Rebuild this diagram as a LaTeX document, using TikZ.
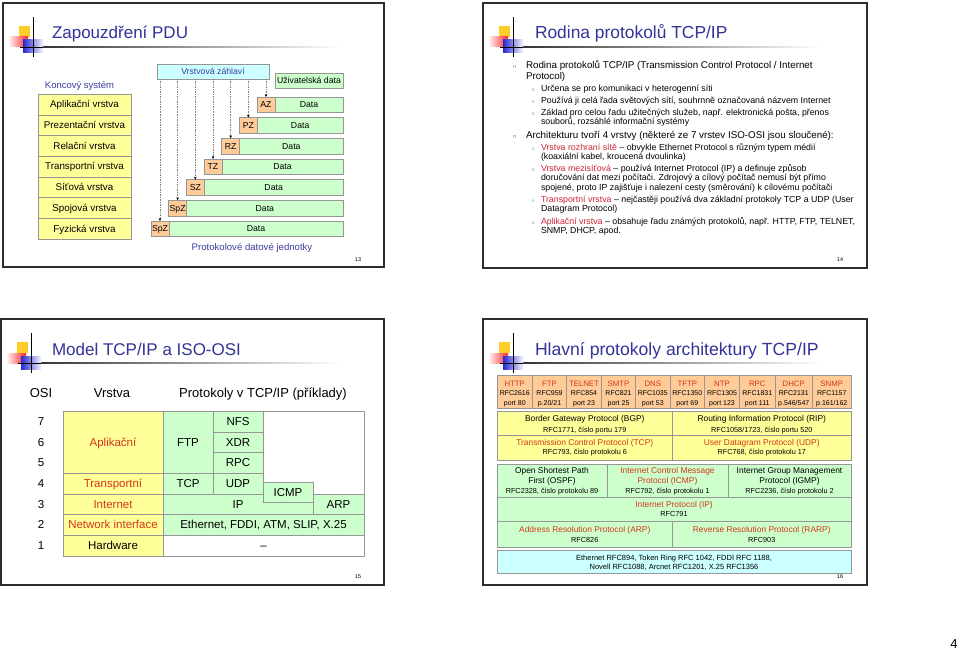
\documentclass[tikz,border=0pt]{standalone}
\usepackage{fontspec}
\setmainfont{Liberation Sans}
\usetikzlibrary{arrows.meta}
\definecolor{ttl}{RGB}{51,51,153}
\definecolor{bluetxt}{RGB}{60,60,160}
\definecolor{redtxt}{RGB}{205,35,50}
\definecolor{ortxt}{RGB}{210,55,25}
\definecolor{yel}{RGB}{255,255,153}
\definecolor{grn}{RGB}{204,255,204}
\definecolor{org}{RGB}{255,204,153}
\definecolor{cyn}{RGB}{204,255,255}
\definecolor{bord}{RGB}{150,150,150}
\definecolor{frm}{RGB}{45,45,45}
\definecolor{logoyel}{RGB}{255,205,40}
\definecolor{logoblue}{RGB}{40,40,210}
\newcommand{\fsz}[2]{\fontsize{#1pt}{#2pt}\selectfont}
\newcommand{\slidelogo}[2]{%
  \begin{scope}[shift={(#1,#2)}]
    \shade[left color=black!85, right color=white] (17,43.6) rectangle (340,44.4);
    \fill[logoyel] (16,23) rectangle (27,34);
    \shade[left color=red!5, right color=red!85] (6,34) rectangle (25,44);
    \shade[left color=logoblue, middle color=logoblue!85, right color=logoblue!5] (20,37) rectangle (40,50);
    \draw[black, line width=0.9pt] (30,14) -- (30,54);
    \draw[black, line width=0.9pt] (17,44) -- (40,44);
  \end{scope}}
\newcommand{\ocell}[6]{%
  \node[ocellst, minimum width={#3-#2}] (#1) at ({(#2+#3)/2},391.5) {};
  \node[oname] (#1n) at ({(#2+#3)/2},386) {#4};
  \node[osub] (#1r) at ({(#2+#3)/2},395.8) {#5};
  \node[osub] (#1p) at ({(#2+#3)/2},405) {#6};}
\tikzset{
  frame/.style={draw=frm, line width=1.6pt},
  ttlst/.style={anchor=base west, text=ttl, font=\fsz{17}{20}},
  pgnum/.style={font=\fsz{5.5}{6}},
  layer/.style={draw=bord, fill=yel, minimum width=93pt, minimum height=20.71pt, font=\fsz{9.8}{11}, text height=7pt, text depth=0pt},
  hdr/.style={draw=bord, fill=org, minimum width=18pt, minimum height=15.5pt, font=\fsz{8.7}{10}, text height=6.2pt, text depth=0pt},
  datab/.style={draw=bord, fill=grn, minimum height=15.5pt, font=\fsz{8.7}{10}, text height=6.2pt, text depth=0pt},
  arr/.style={draw=gray, dash pattern=on 1.5pt off 1pt, -{Stealth[length=3pt,width=2.6pt,color=black]}},
  l1/.style={anchor=base west, font=\fsz{9.8}{11}},
  l2/.style={anchor=base west, font=\fsz{8.8}{10}},
  b1/.style={anchor=base west, font=\fsz{5.5}{6}, text=gray},
  b2/.style={anchor=base west, font=\fsz{4.5}{5}, text=gray},
  thd/.style={anchor=base, font=\fsz{13}{15}},
  tc/.style={draw=bord, font=\fsz{11.5}{13}, text height=8.2pt, text depth=0pt},
  num/.style={font=\fsz{11.5}{13}, text height=8.2pt, text depth=0pt},
  ocellst/.style={draw=bord, fill=org, minimum height=33pt},
  oname/.style={anchor=base, font=\fsz{7.8}{9}, text=ortxt},
  osub/.style={anchor=base, font=\fsz{7.0}{8}},
  bcell/.style={draw=bord},
  mtxt/.style={anchor=base, font=\fsz{8.4}{9}},
  stxt/.style={anchor=base, font=\fsz{7.3}{8}},
}
\begin{document}
\begin{tikzpicture}[x=1pt,y=-1pt, every node/.style={inner sep=0pt, outer sep=0pt}]
\useasboundingbox (0,0) rectangle (960,650);
\fill[white] (0,0) rectangle (960,650);

% ================= Slide 1 =================
\draw[frame] (3,3) rectangle (384,267);
\slidelogo{3}{3}
\node[ttlst] (t1) at (52,38.3) {Zapouzdření PDU};
\node[anchor=base, text=bluetxt, font=\fsz{9.5}{11}] (KS) at (79.5,88.3) {Koncový systém};
\foreach \t [count=\i from 0] in {Aplikační vrstva, Prezentační vrstva, Relační vrstva, Transportní vrstva, Síťová vrstva, Spojová vrstva, Fyzická vrstva}
  \node[layer] (L\i) at (84.5, {94+(\i+0.5)*20.71}) {\t};
\node[draw=bord, fill=cyn, minimum width=112pt, minimum height=15pt, text=bluetxt, font=\fsz{8.7}{10}, text height=6.2pt, text depth=0pt] (VZ) at (213,71.5) {Vrstvová záhlaví};
\node[draw=bord, fill=grn, minimum width=68pt, minimum height=15pt, font=\fsz{8.7}{10}, text height=6.2pt, text depth=0pt] (UD) at (309,80.5) {Uživatelská data};
\foreach \t [count=\k from 0] in {AZ,PZ,RZ,TZ,SZ,SpZ,SpZ} {
  \node[hdr] (H\k) at ({257-\k*17.67+9}, {97+\k*20.67+7.75}) {\t};
  \node[datab, minimum width={68+\k*17.67}, anchor=west] (D\k) at (H\k.east) {Data};
  \draw[arr] (VZ.south -| H\k.north) -- (H\k.north);
}
\node[anchor=base, text=bluetxt, font=\fsz{9.6}{11}] (PDJ) at (252,250.5) {Protokolové datové jednotky};
\node[pgnum] (p13) at (358,260) {13};

% ================= Slide 2 =================
\draw[frame] (483,3) rectangle (867,268);
\slidelogo{483}{3}
\node[ttlst, font=\fsz{17.4}{20}] (t2) at (535,38.3) {Rodina protokolů TCP/IP};
\node[b1] (s2b1) at (513,69) {n};
\node[l1] (s2a1) at (526,69) {Rodina protokolů TCP/IP (Transmission Control Protocol / Internet};
\node[l1] (s2a2) at (526,79.5) {Protocol)};
\node[b2] (s2b2) at (532,92) {n};
\node[l2] (s2a3) at (541,92) {Určena se pro komunikaci v heterogenní síti};
\node[b2] (s2b3) at (532,103.5) {n};
\node[l2] (s2a4) at (541,103.5) {Používá ji celá řada světových sítí, souhrnně označovaná názvem Internet};
\node[b2] (s2b4) at (532,115) {n};
\node[l2] (s2a5) at (541,115) {Základ pro celou řadu užitečných služeb, např. elektronická pošta, přenos};
\node[l2] (s2a6) at (541,124.5) {souborů, rozsáhlé informační systémy};
\node[b1] (s2b5) at (513,138) {n};
\node[l1] (s2a7) at (526,138) {Architekturu tvoří 4 vrstvy (některé ze 7 vrstev ISO-OSI jsou sloučené):};
\node[b2] (s2b6) at (532,150) {n};
\node[l2] (s2a8) at (541,150) {\textcolor{redtxt}{Vrstva rozhraní sítě} – obvykle Ethernet Protocol s různým typem médií};
\node[l2] (s2a9) at (541,159.5) {(koaxiální kabel, kroucená dvoulinka)};
\node[b2] (s2b7) at (532,171) {n};
\node[l2] (s2a10) at (541,171) {\textcolor{redtxt}{Vrstva mezisíťová} – používá Internet Protocol (IP) a definuje způsob};
\node[l2] (s2a11) at (541,180.5) {doručování dat mezi počítači. Zdrojový a cílový počítač nemusí být přímo};
\node[l2] (s2a12) at (541,190) {spojené, proto IP zajišťuje i nalezení cesty (směrování) k cílovému počítači};
\node[b2] (s2b8) at (532,202) {n};
\node[l2] (s2a13) at (541,202) {\textcolor{redtxt}{Transportní vrstva} – nejčastěji používá dva základní protokoly TCP a UDP (User};
\node[l2] (s2a14) at (541,211.5) {Datagram Protocol)};
\node[b2] (s2b9) at (532,224) {n};
\node[l2] (s2a15) at (541,224) {\textcolor{redtxt}{Aplikační vrstva} – obsahuje řadu známých protokolů, např. HTTP, FTP, TELNET,};
\node[l2] (s2a16) at (541,233.5) {SNMP, DHCP, apod.};
\node[pgnum] (p14) at (840,260) {14};

% ================= Slide 3 =================
\draw[frame] (1,319) rectangle (384,585);
\slidelogo{1}{319}
\node[ttlst] (t3) at (52,355) {Model TCP/IP a ISO-OSI};
\node[thd] (hOSI) at (41,397.5) {OSI};
\node[thd] (hVr) at (112,397.5) {Vrstva};
\node[thd] (hPr) at (263,397.5) {Protokoly v TCP/IP (příklady)};
% white background of table
\fill[white] (63,411) rectangle (364,556);
\node[tc, fill=yel, minimum width=100pt, minimum height=62.1pt, text=ortxt] (apl) at (113,442.05) {Aplikační};
\node[tc, fill=yel, minimum width=100pt, minimum height=20.7pt, text=ortxt] (trn) at (113,483.45) {Transportní};
\node[tc, fill=yel, minimum width=100pt, minimum height=20.7pt, text=ortxt] (inet) at (113,504.15) {Internet};
\node[tc, fill=yel, minimum width=100pt, minimum height=20.7pt, text=ortxt] (nif) at (113,524.85) {Network interface};
\node[tc, fill=yel, minimum width=100pt, minimum height=20.8pt] (hw) at (113,545.6) {Hardware};
\node[tc, fill=grn, minimum width=50pt, minimum height=62.1pt] (ftp) at (188,442.05) {FTP};
\node[tc, fill=grn, minimum width=50pt, minimum height=20.7pt] (nfs) at (238,421.35) {NFS};
\node[tc, fill=grn, minimum width=50pt, minimum height=20.7pt] (xdr) at (238,442.05) {XDR};
\node[tc, fill=grn, minimum width=50pt, minimum height=20.7pt] (rpc) at (238,462.75) {RPC};
\node[tc, fill=grn, minimum width=50pt, minimum height=20.7pt] (s3tcp) at (188,483.45) {TCP};
\node[tc, fill=grn, minimum width=50pt, minimum height=20.7pt] (udp) at (238,483.45) {UDP};
\node[tc, fill=grn, minimum width=150pt, minimum height=20.7pt, text width=100pt, align=center] (s3ip) at (238,504.15) {IP};
\node[tc, fill=grn, minimum width=50pt, minimum height=20.5pt] (icmp) at (288,492.25) {ICMP};
\node[tc, fill=grn, minimum width=51pt, minimum height=20.7pt] (arp) at (338.5,504.15) {ARP};
\node[tc, fill=grn, minimum width=201pt, minimum height=20.7pt] (eth) at (263.5,524.85) {Ethernet, FDDI, ATM, SLIP, X.25};
\node[tc, fill=white, minimum width=201pt, minimum height=20.8pt] (dash) at (263.5,545.6) {–};
\draw[bord] (63,411) rectangle (364,556);
\foreach \n/\y in {7/421.35, 6/442.05, 5/462.75, 4/483.45, 3/504.15, 2/524.85, 1/545.6}
  \node[num] (n\n) at (41,\y) {\n};
\node[pgnum] (p15) at (358,577) {15};

% ================= Slide 4 =================
\draw[frame] (483,319) rectangle (867,585);
\slidelogo{483}{319}
\node[ttlst, font=\fsz{17.6}{20}] (t4) at (535,355) {Hlavní protokoly architektury TCP/IP};
\ocell{http}{497}{532.5}{HTTP}{RFC2616}{port 80}
\ocell{ftp4}{532.5}{566.5}{FTP}{RFC959}{p.20/21}
\ocell{telnet}{566.5}{601.5}{TELNET}{RFC854}{port 23}
\ocell{smtp}{601.5}{635.5}{SMTP}{RFC821}{port 25}
\ocell{dns}{635.5}{670}{DNS}{RFC1035}{port 53}
\ocell{tftp}{670}{704.5}{TFTP}{RFC1350}{port 69}
\ocell{ntp}{704.5}{739.5}{NTP}{RFC1305}{port 123}
\ocell{rpc4}{739.5}{775}{RPC}{RFC1831}{port 111}
\ocell{dhcp}{775}{812.5}{DHCP}{RFC2131}{p.546/547}
\ocell{snmp}{812.5}{851}{SNMP}{RFC1157}{p.161/162}
% yellow block
\node[bcell, fill=yel, minimum width=175.5pt, minimum height=24.5pt] (bgp) at (584.75,423.25) {};
\node[bcell, fill=yel, minimum width=178.5pt, minimum height=24.5pt] (rip) at (761.75,423.25) {};
\node[bcell, fill=yel, minimum width=175.5pt, minimum height=25pt] (tcp4) at (584.75,448) {};
\node[bcell, fill=yel, minimum width=178.5pt, minimum height=25pt] (udp4) at (761.75,448) {};
\node[mtxt] (bgp1) at (584.75,421.5) {Border Gateway Protocol (BGP)};
\node[stxt] (bgp2) at (584.75,432) {RFC1771, číslo portu 179};
\node[mtxt] (rip1) at (761.75,421.5) {Routing Information Protocol (RIP)};
\node[stxt] (rip2) at (761.75,432) {RFC1058/1723, číslo portu 520};
\node[mtxt, text=ortxt] (tcp1) at (584.75,445.3) {Transmission Control Protocol (TCP)};
\node[stxt] (tcp2) at (584.75,454.5) {RFC793, číslo protokolu 6};
\node[mtxt, text=ortxt] (udp1) at (761.75,445.3) {User Datagram Protocol (UDP)};
\node[stxt] (udp2) at (761.75,454.5) {RFC768, číslo protokolu 17};
% green block
\node[bcell, fill=grn, minimum width=110pt, minimum height=33pt] (ospf) at (552,480.5) {};
\node[bcell, fill=grn, minimum width=121pt, minimum height=33pt] (icmp4) at (667.5,480.5) {};
\node[bcell, fill=grn, minimum width=123pt, minimum height=33pt] (igmp) at (789.5,480.5) {};
\node[bcell, fill=grn, minimum width=354pt, minimum height=24pt] (ip4) at (674,509) {};
\node[bcell, fill=grn, minimum width=175.5pt, minimum height=26.5pt] (arp4) at (584.75,534.25) {};
\node[bcell, fill=grn, minimum width=178.5pt, minimum height=26.5pt] (rarp) at (761.75,534.25) {};
\node[mtxt] (ospf1) at (552,473.7) {Open Shortest Path};
\node[mtxt] (ospf2) at (552,483.7) {First (OSPF)};
\node[stxt] (ospf3) at (552,493.3) {RFC2328, číslo protokolu 89};
\node[mtxt, text=ortxt] (icmp1) at (667.5,473.7) {Internet Control Message};
\node[mtxt, text=ortxt] (icmp2) at (667.5,483.7) {Protocol (ICMP)};
\node[stxt] (icmp3) at (667.5,493.3) {RFC792, číslo protokolu 1};
\node[mtxt] (igmp1) at (789.5,473.7) {Internet Group Management};
\node[mtxt] (igmp2) at (789.5,483.7) {Protocol (IGMP)};
\node[stxt] (igmp3) at (789.5,493.3) {RFC2236, číslo protokolu 2};
\node[mtxt, text=ortxt] (ip1) at (674,507.3) {Internet Protocol (IP)};
\node[stxt] (ip2) at (674,516.8) {RFC791};
\node[mtxt, text=ortxt] (arp1) at (584.75,532.5) {Address Resolution Protocol (ARP)};
\node[stxt] (arp2) at (584.75,542.5) {RFC826};
\node[mtxt, text=ortxt] (rarp1) at (761.75,532.5) {Reverse Resolution Protocol (RARP)};
\node[stxt] (rarp2) at (761.75,542.5) {RFC903};
% cyan block
\node[bcell, fill=cyn, minimum width=354pt, minimum height=23pt] (phy) at (674,562) {};
\node[stxt, font=\fsz{7.5}{8}] (phy1) at (674,560) {Ethernet RFC894, Token Ring RFC 1042, FDDI RFC 1188,};
\node[stxt, font=\fsz{7.5}{8}] (phy2) at (674,569.5) {Novell RFC1088, Arcnet RFC1201, X.25 RFC1356};
\node[pgnum] (p16) at (840,577) {16};

% page number
\node[anchor=base, font=\fsz{13}{14}] (pg) at (954,648.5) {4};
\end{tikzpicture}
\end{document}
